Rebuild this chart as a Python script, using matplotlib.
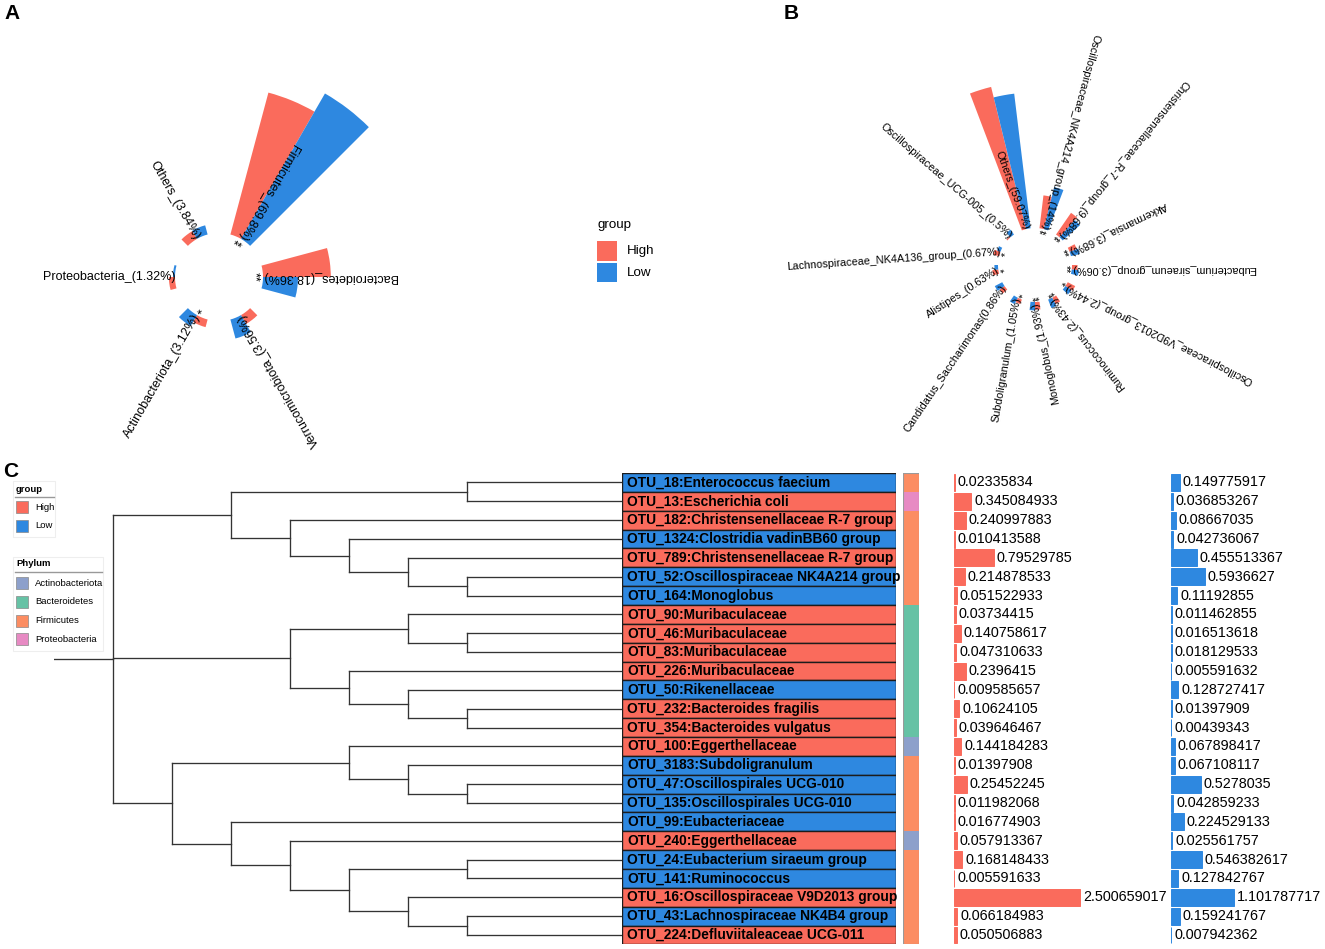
import numpy as np
import matplotlib
matplotlib.use('Agg')
import matplotlib.pyplot as plt
from matplotlib.patches import Rectangle

plt.rcParams['font.family'] = ['Liberation Sans', 'DejaVu Sans']

HIGH = '#FA6B5C'
LOW = '#2E88E0'
PHYLUM_COL = {'Actinobacteriota': '#8DA0CB', 'Bacteroidetes': '#66C2A5',
              'Firmicutes': '#FC8D62', 'Proteobacteria': '#E78AC3'}

# ---- panel A: phylum level (relative abundance, %)
phyla_a = ['Firmicutes_(69.8%)', 'Bacteroidetes_(18.36%)', 'Verrucomicrobiota_(3.56%)',
           'Actinobacteriota_(3.12%)', 'Proteobacteria_(1.32%)', 'Others_(3.84%)']
high_a = [65.0, 30.0, 4.5, 3.5, 2.7, 4.0]
low_a = [74.3, 15.5, 8.7, 5.6, 0.9, 4.2]
sig_a = ['**', '**', '', '*', '', '']

# ---- panel B: genus level (relative abundance, %)
genera_b = ['Oscillospiraceae_NK4A214_group_(14%)', 'Christensenellaceae_R-7_group_(9.68%)',
            'Akkermansia_(3.68%)', 'Eubacterium_siraeum_group_(3.06%)',
            'Oscillospiraceae_V9D2013_group_(2.44%)', 'Ruminococcus_(2.43%)',
            'Monoglobus_(1.93%)', 'Subdoligranulum_(1.05%)', 'Candidatus_Saccharimonas(0.86%)',
            'Alistipes_(0.63%)', 'Lachnospiraceae_NK4A136_group_(0.67%)',
            'Oscillospiraceae_UCG-005_(0.5%)', 'Others_(59.07%)']
high_b = [13.8, 11.0, 3.2, 2.3, 3.5, 3.0, 3.2, 2.0, 2.5, 2.5, 2.5, 0.5, 61.0]
low_b = [18.0, 9.6, 3.8, 3.0, 3.0, 3.8, 3.5, 3.0, 3.5, 1.5, 1.5, 2.5, 56.5]
sig_b = ['**', '**', '**', '**', '*', '**', '**', '*', '', '*', '*', '', '']
# text angles of the labels in panel B (degrees)
rot_b = [255, 231, 206, 180, 153, 128, 102, 80, 56, 33, 4, -41, -70]

# ---- panel C: OTUs
otu_labels = ['OTU_18:Enterococcus faecium', 'OTU_13:Escherichia coli',
              'OTU_182:Christensenellaceae R-7 group', 'OTU_1324:Clostridia vadinBB60 group',
              'OTU_789:Christensenellaceae R-7 group', 'OTU_52:Oscillospiraceae NK4A214 group',
              'OTU_164:Monoglobus', 'OTU_90:Muribaculaceae', 'OTU_46:Muribaculaceae',
              'OTU_83:Muribaculaceae', 'OTU_226:Muribaculaceae', 'OTU_50:Rikenellaceae',
              'OTU_232:Bacteroides fragilis', 'OTU_354:Bacteroides vulgatus',
              'OTU_100:Eggerthellaceae', 'OTU_3183:Subdoligranulum',
              'OTU_47:Oscillospirales UCG-010', 'OTU_135:Oscillospirales UCG-010',
              'OTU_99:Eubacteriaceae', 'OTU_240:Eggerthellaceae',
              'OTU_24:Eubacterium siraeum group', 'OTU_141:Ruminococcus',
              'OTU_16:Oscillospiraceae V9D2013 group', 'OTU_43:Lachnospiraceae NK4B4 group',
              'OTU_224:Defluviitaleaceae UCG-011']
otu_group = ['Low', 'High', 'High', 'Low', 'High', 'Low', 'Low', 'High', 'High', 'High',
             'High', 'Low', 'High', 'High', 'High', 'Low', 'Low', 'Low', 'Low', 'High',
             'Low', 'Low', 'High', 'Low', 'High']
otu_phylum = ['Firmicutes', 'Proteobacteria', 'Firmicutes', 'Firmicutes', 'Firmicutes',
              'Firmicutes', 'Firmicutes', 'Bacteroidetes', 'Bacteroidetes', 'Bacteroidetes',
              'Bacteroidetes', 'Bacteroidetes', 'Bacteroidetes', 'Bacteroidetes',
              'Actinobacteriota', 'Firmicutes', 'Firmicutes', 'Firmicutes', 'Firmicutes',
              'Actinobacteriota', 'Firmicutes', 'Firmicutes', 'Firmicutes', 'Firmicutes',
              'Firmicutes']
high_c = [0.02335834, 0.345084933, 0.240997883, 0.010413588, 0.79529785, 0.214878533,
          0.051522933, 0.03734415, 0.140758617, 0.047310633, 0.2396415, 0.009585657,
          0.10624105, 0.039646467, 0.144184283, 0.01397908, 0.25452245, 0.011982068,
          0.016774903, 0.057913367, 0.168148433, 0.005591633, 2.500659017, 0.066184983,
          0.050506883]
low_c = [0.149775917, 0.036853267, 0.08667035, 0.042736067, 0.455513367, 0.5936627,
         0.11192855, 0.011462855, 0.016513618, 0.018129533, 0.005591632, 0.128727417,
         0.01397909, 0.00439343, 0.067898417, 0.067108117, 0.5278035, 0.042859233,
         0.224529133, 0.025561757, 0.546382617, 0.127842767, 1.101787717, 0.159241767,
         0.007942362]
# clustering of the OTUs (leaves are row indices)
tree = (((0, 1), (2, (3, (4, (5, 6))))),
        ((7, (8, 9)), (10, (11, (12, 13)))),
        ((14, (15, (16, 17))), (18, (19, ((20, 21), (22, (23, 24)))))))

W, H = 1325, 949
fig = plt.figure(figsize=(W / 100, H / 100), dpi=100)


def px_axes(x0, y0, x1, y1, **kw):
    return fig.add_axes([x0 / W, 1 - y1 / H, (x1 - x0) / W, (y1 - y0) / H], **kw)


def polar_panel(cx, cy, rad, k, hole, star_in, labels, hi, lo, sig, rots, fs):
    ax = px_axes(cx - rad, cy - rad, cx + rad, cy + rad, projection='polar')
    ax.set_theta_zero_location('N')
    ax.set_theta_direction(-1)
    n = len(labels)
    step = 2 * np.pi / n
    theta = step * (np.arange(n) + 0.5)
    w = 0.25 * step
    ax.bar(theta - w / 2, hi, width=w, bottom=0, color=HIGH, lw=0)
    ax.bar(theta + w / 2, lo, width=w, bottom=0, color=LOW, lw=0)
    r0 = hole / k
    ax.set_ylim(-r0, rad / k - r0)
    ax.set_axis_off()
    for t, lab, s, rot in zip(theta, labels, sig, rots):
        ax.text(t, 0, lab, rotation=rot, rotation_mode='anchor', ha='right', va='center',
                fontsize=fs)
        if s:
            ax.text(t, -star_in / k, s, rotation=rot + 90, rotation_mode='anchor',
                    ha='center', va='center', fontsize=fs)
    return ax


# panel A
n_a = len(phyla_a)
th_a = 2 * np.pi * (np.arange(n_a) + 0.5) / n_a
rot_a = np.degrees(np.arctan2(-np.cos(th_a), -np.sin(th_a)))
polar_panel(219, 277, 215, 2.26, 44, 9, phyla_a, high_a, low_a, sig_a, rot_a, 9)

# panel B
polar_panel(1035, 265, 200, 2.4, 37, 6, genera_b, high_b, low_b, sig_b, rot_b, 7.8)

# panel C
top, bot = 482.5 - 9.43, 935 + 9.43
n_c = len(otu_labels)
rows = np.arange(n_c)


def tree_height(node):
    if isinstance(node, int):
        return 0
    return 1 + max(tree_height(c) for c in node)


ax_t = px_axes(54, top, 622, bot)
h_root = tree_height(tree)
tip_end = (622 - 113) / 59
ax_t.set_xlim(-1, tip_end)
ax_t.set_ylim(n_c - 0.5, -0.5)
ax_t.set_axis_off()
line_kw = dict(color='#333333', lw=0.95, solid_capstyle='projecting')


def draw_node(node):
    if isinstance(node, int):
        return node
    x = h_root - tree_height(node)
    ys = []
    for c in node:
        yc = draw_node(c)
        xc = tip_end if isinstance(c, int) else h_root - tree_height(c)
        ax_t.plot([x, xc], [yc, yc], **line_kw)
        ys.append(yc)
    ax_t.plot([x, x], [min(ys), max(ys)], **line_kw)
    return np.mean(ys)


y_root = draw_node(tree)
ax_t.plot([-1, 0], [y_root, y_root], **line_kw)

# label boxes
ax_l = px_axes(622, top, 896, bot)
ax_l.barh(rows, 1, height=1, left=0,
          color=[HIGH if g == 'High' else LOW for g in otu_group],
          edgecolor='#1c1c1c', linewidth=1.0)
for i, lab in enumerate(otu_labels):
    ax_l.text(0.018, i, lab, ha='left', va='center', fontsize=9.9, fontweight='bold')
ax_l.set_xlim(0, 1)
ax_l.set_ylim(n_c - 0.5, -0.5)
ax_l.set_axis_off()

# phylum strip
ax_p = px_axes(903, top, 919, bot)
ax_p.barh(rows, 1, height=1, color=[PHYLUM_COL[p] for p in otu_phylum], lw=0)
ax_p.add_patch(Rectangle((0, 0), 1, 1, transform=ax_p.transAxes, fill=False,
                         edgecolor='#9a9a9a', lw=0.8))
ax_p.set_xlim(0, 1)
ax_p.set_ylim(n_c - 0.5, -0.5)
ax_p.set_axis_off()

# abundance bars
for x0, x1, scale, vals, col in [(954, 1170, 50.4, high_c, HIGH),
                                 (1171, 1325, 57.0, low_c, LOW)]:
    ax_b = px_axes(x0, top, x1, bot)
    ax_b.barh(rows, vals, height=0.9, color=col, edgecolor=col, lw=0.7)
    for i, v in enumerate(vals):
        ax_b.annotate(f'{v}', (v, i), xytext=(2, 0), textcoords='offset points',
                      ha='left', va='center', fontsize=10.4)
    ax_b.set_xlim(0, (x1 - x0) / scale)
    ax_b.set_ylim(n_c - 0.5, -0.5)
    ax_b.set_axis_off()

# overlay in pixel coordinates: panel letters and legends
ov = fig.add_axes([0, 0, 1, 1])
ov.set_xlim(0, W)
ov.set_ylim(H, 0)
ov.set_axis_off()
for s, x, y in [('A', 4, 13), ('B', 784, 13), ('C', 3, 471)]:
    ov.text(x, y, s, fontsize=15, fontweight='bold', ha='left', va='center')

# legend of panel A/B
ov.text(597, 225, 'group', fontsize=9.6, ha='left', va='center')
for j, (lab, col) in enumerate([('High', HIGH), ('Low', LOW)]):
    ov.add_patch(Rectangle((597, 241 + j * 21.5), 20, 19.5, facecolor=col, edgecolor='none'))
    ov.text(627, 251 + j * 21.5, lab, fontsize=9.6, ha='left', va='center')

# legends of panel C
ov.add_patch(Rectangle((13, 481), 42, 56, facecolor='white', edgecolor='#eeeeee', lw=0.8))
ov.text(16, 489, 'group', fontsize=6.8, fontweight='bold', ha='left', va='center')
ov.plot([15, 54], [497, 497], color='#999999', lw=1)
for j, (lab, col) in enumerate([('High', HIGH), ('Low', LOW)]):
    ov.add_patch(Rectangle((16, 501 + j * 19), 12, 12, facecolor=col, edgecolor='#888888', lw=0.5))
    ov.text(35, 507 + j * 19, lab, fontsize=6.8, ha='left', va='center')

ov.add_patch(Rectangle((13, 557), 90, 94, facecolor='white', edgecolor='#eeeeee', lw=0.8))
ov.text(16, 564, 'Phylum', fontsize=6.8, fontweight='bold', ha='left', va='center')
ov.plot([15, 102], [572, 572], color='#999999', lw=1)
for j, (lab, col) in enumerate(PHYLUM_COL.items()):
    ov.add_patch(Rectangle((16, 577 + j * 18.8), 12, 12, facecolor=col, edgecolor='#888888', lw=0.5))
    ov.text(35, 583 + j * 18.8, lab, fontsize=6.8, ha='left', va='center')

fig.savefig('out.png', dpi=100)
